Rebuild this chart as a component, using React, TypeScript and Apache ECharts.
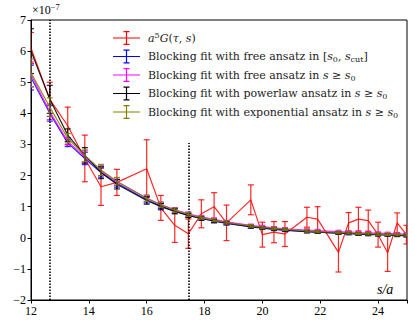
import React, { useEffect, useRef } from "react";
import * as echarts from "echarts";

// lattice separations s/a
const S = [12.0, 12.65, 13.27, 13.86, 14.42, 14.97, 16.0, 16.49, 16.97, 17.44, 17.89, 18.33, 18.76, 19.6, 20.0, 20.4, 20.78, 21.54, 21.91, 22.63, 22.98, 23.32, 23.66, 24.0, 24.33, 24.66, 24.98];

// a^5 G(tau, s)  (units of 1e-7)
const G_VAL = [6.1, 4.45, 3.6, 2.55, 1.64, 1.78, 2.22, 0.96, 0.4, 0.13, 0.77, 1.0, 0.48, 1.22, 0.1, 0.18, 0.12, 0.66, 0.6, -0.47, 0.48, 0.6, 0.55, 0.1, -0.48, 0.48, 0.1];
const G_ERR = [0.5, 0.55, 0.6, 0.75, 0.6, 0.42, 0.93, 0.4, 0.55, 0.47, 0.45, 0.45, 0.57, 0.48, 0.4, 0.34, 0.4, 0.32, 0.4, 0.63, 0.33, 0.38, 0.34, 0.4, 0.6, 0.32, 0.3];

// blocking fit, free ansatz in [s0, scut]
const FREE_CUT_VAL = [5.15, 4.0, 3.05, 2.55, 2.1, 1.75, 1.22, 1.02, 0.86, 0.72, 0.62, 0.54, 0.46, 0.35, 0.31, 0.27, 0.24, 0.2, 0.18, 0.15, 0.14, 0.12, 0.11, 0.1, 0.09, 0.08, 0.07];
const FREE_CUT_ERR = [0.4, 0.25, 0.12, 0.2, 0.15, 0.12, 0.1, 0.08, 0.07, 0.06, 0.05, 0.05, 0.05, 0.04, 0.04, 0.04, 0.04, 0.04, 0.04, 0.04, 0.04, 0.04, 0.04, 0.04, 0.04, 0.04, 0.04];

// blocking fit, free ansatz in s >= s0
const FREE_VAL = [5.25, 4.05, 3.1, 2.6, 2.15, 1.8, 1.27, 1.07, 0.9, 0.77, 0.67, 0.59, 0.51, 0.4, 0.36, 0.32, 0.29, 0.25, 0.23, 0.2, 0.19, 0.17, 0.16, 0.15, 0.14, 0.13, 0.12];
const FREE_ERR = [0.4, 0.25, 0.12, 0.2, 0.15, 0.12, 0.1, 0.08, 0.07, 0.06, 0.05, 0.05, 0.05, 0.04, 0.04, 0.04, 0.04, 0.04, 0.04, 0.04, 0.04, 0.04, 0.04, 0.04, 0.04, 0.04, 0.04];

// blocking fit, powerlaw ansatz in s >= s0
const POW_VAL = [6.0, 4.45, 3.3, 2.65, 2.1, 1.72, 1.2, 1.0, 0.85, 0.72, 0.62, 0.54, 0.47, 0.36, 0.32, 0.28, 0.25, 0.2, 0.18, 0.15, 0.14, 0.12, 0.11, 0.1, 0.09, 0.08, 0.07];
const POW_ERR = [0.72, 0.45, 0.2, 0.25, 0.2, 0.15, 0.12, 0.1, 0.08, 0.07, 0.06, 0.06, 0.05, 0.05, 0.04, 0.04, 0.04, 0.04, 0.04, 0.04, 0.04, 0.04, 0.04, 0.04, 0.04, 0.04, 0.04];

// blocking fit, exponential ansatz in s >= s0
const EXP_VAL = [5.3, 4.2, 3.2, 2.65, 2.18, 1.82, 1.27, 1.06, 0.89, 0.75, 0.65, 0.57, 0.49, 0.38, 0.33, 0.3, 0.27, 0.22, 0.2, 0.17, 0.16, 0.14, 0.13, 0.12, 0.11, 0.1, 0.09];
const EXP_ERR = [0.45, 0.3, 0.15, 0.2, 0.18, 0.12, 0.1, 0.08, 0.07, 0.06, 0.05, 0.05, 0.05, 0.04, 0.04, 0.04, 0.04, 0.04, 0.04, 0.04, 0.04, 0.04, 0.04, 0.04, 0.04, 0.04, 0.04];

// vertical markers
const S0 = 12.65;
const S_CUT = 17.44;
const S_CUT_TOP = 3.05;

const X_MIN = 12, X_MAX = 25, X_STEP = 2;
const Y_MIN = -2, Y_MAX = 7, Y_STEP = 1;

const SERIES = [
  { name: "a5G", val: G_VAL, err: G_ERR, color: "#ff0000", opacity: 0.85,
    label: "{it|a}{sup|5}{it|G}{rm|(}{it|τ}{rm|, }{it|s}{rm|)}" },
  { name: "freeCut", val: FREE_CUT_VAL, err: FREE_CUT_ERR, color: "#0000ff", opacity: 0.85,
    label: "{rm|Blocking fit with free ansatz in [}{it|s}{sub|0}{rm|, }{it|s}{sub|cut}{rm|]}" },
  { name: "free", val: FREE_VAL, err: FREE_ERR, color: "#ff00ff", opacity: 0.85,
    label: "{rm|Blocking fit with free ansatz in }{it|s}{rm| ≥ }{it|s}{sub|0}" },
  { name: "pow", val: POW_VAL, err: POW_ERR, color: "#000000", opacity: 0.85,
    label: "{rm|Blocking fit with powerlaw ansatz in }{it|s}{rm| ≥ }{it|s}{sub|0}" },
  { name: "exp", val: EXP_VAL, err: EXP_ERR, color: "#808000", opacity: 0.85,
    label: "{rm|Blocking fit with exponential ansatz in }{it|s}{rm| ≥ }{it|s}{sub|0}" },
];

const SERIF = "'Liberation Serif', 'DejaVu Serif', serif";
const LEG_FONT = "'DejaVu Serif', serif";

const ICON = "path://M0,6.4H27V7.6H0Z M12.9,0H14.1V14H12.9Z M10.5,0H16.5V1.2H10.5Z M10.5,12.8H16.5V14H10.5Z";

function errRender(color: string, opacity: number) {
  return (params: any, api: any) => {
    const x = api.value(0), y = api.value(1), e = api.value(2);
    const hi = api.coord([x, y + e]);
    const lo = api.coord([x, y - e]);
    const cw = 3;
    const style = { stroke: color, lineWidth: 1.2, opacity };
    return {
      type: "group",
      children: [
        { type: "line", shape: { x1: hi[0], y1: hi[1], x2: lo[0], y2: lo[1] }, style },
        { type: "line", shape: { x1: hi[0] - cw, y1: hi[1], x2: hi[0] + cw, y2: hi[1] }, style },
        { type: "line", shape: { x1: lo[0] - cw, y1: lo[1], x2: lo[0] + cw, y2: lo[1] }, style },
      ],
    };
  };
}

export default function App() {
  const ref = useRef<HTMLDivElement>(null);
  useEffect(() => {
    if (!ref.current) return;
    const chart = echarts.init(ref.current, null, { renderer: "svg" });
    const series: any[] = [];
    SERIES.forEach((d, k) => {
      series.push({
        type: "line",
        name: d.name,
        data: S.map((s, i) => [s, d.val[i]]),
        symbol: "none",
        lineStyle: { color: d.color, width: 1.2, opacity: d.opacity },
        itemStyle: { color: d.color },
        z: 2 + k,
        clip: true,
        markLine: k === 0 ? {
          symbol: "none",
          silent: true,
          label: { show: false },
          lineStyle: { type: [1.5, 1.5], color: "#000", width: 1.6, opacity: 1 },
          data: [
            [{ coord: [S0, Y_MIN] }, { coord: [S0, Y_MAX] }],
            [{ coord: [S_CUT, Y_MIN] }, { coord: [S_CUT, S_CUT_TOP] }],
          ],
        } : undefined,
      });
      series.push({
        type: "custom",
        name: d.name,
        data: S.map((s, i) => [s, d.val[i], d.err[i]]),
        encode: { x: 0, y: 1 },
        renderItem: errRender(d.color, d.opacity),
        clip: true,
        z: 2 + k,
        itemStyle: { color: d.color },
      });
    });

    const labels: Record<string, string> = {};
    SERIES.forEach((d) => (labels[d.name] = d.label));

    chart.setOption({
      animation: false,
      backgroundColor: "#fff",
      grid: { left: 31, right: 8, top: 20, bottom: 27, show: true, borderColor: "#000", borderWidth: 1 },
      xAxis: {
        type: "value", min: X_MIN, max: X_MAX, interval: X_STEP,
        axisLine: { show: true, onZero: false, lineStyle: { color: "#000", width: 1 } },
        axisTick: { show: true, inside: false, length: 3.5, lineStyle: { color: "#000" } },
        axisLabel: { color: "#000", fontFamily: SERIF, fontSize: 12, margin: 5,
          formatter: (v: number) => (v >= 25 ? "" : String(v)) },
        splitLine: { show: false },
      },
      yAxis: {
        type: "value", min: Y_MIN, max: Y_MAX, interval: Y_STEP,
        axisLine: { show: true, onZero: false, lineStyle: { color: "#000", width: 1 } },
        axisTick: { show: true, inside: false, length: 3.5, lineStyle: { color: "#000" } },
        axisLabel: { color: "#000", fontFamily: SERIF, fontSize: 12, margin: 5,
          formatter: (v: number) => (v < 0 ? "\u2212" + Math.abs(v) : String(v)) },
        splitLine: { show: false },
      },
      legend: {
        orient: "vertical",
        left: 113,
        top: 31,
        padding: 0,
        itemWidth: 27,
        itemHeight: 14,
        itemGap: 4.5,
        selectedMode: false,
        data: SERIES.map((d) => ({ name: d.name, icon: ICON })),
        formatter: (name: string) => labels[name],
        textStyle: {
          padding: [0, 0, 0, 3],
          color: "#222",
          rich: {
            rm: { fontFamily: LEG_FONT, fontSize: 11, color: "#222", lineHeight: 14 },
            it: { fontFamily: LEG_FONT, fontSize: 11, fontStyle: "italic", color: "#222", lineHeight: 14 },
            sup: { fontFamily: LEG_FONT, fontSize: 8, color: "#222", verticalAlign: "top", lineHeight: 10 },
            sub: { fontFamily: LEG_FONT, fontSize: 8, color: "#222", verticalAlign: "bottom", lineHeight: 8 },
          },
        },
      },
      graphic: [
        {
          type: "text", left: 32, top: 2,
          style: {
            text: "{rm|×10}{sup|−7}",
            rich: {
              rm: { fontFamily: SERIF, fontSize: 12, fill: "#000", lineHeight: 16 },
              sup: { fontFamily: SERIF, fontSize: 8.5, fill: "#000", verticalAlign: "top", lineHeight: 10 },
            },
          },
        },
        {
          type: "text", left: 377, top: 282,
          style: { text: "s/a", fontFamily: SERIF, fontStyle: "italic", fontSize: 14, fill: "#000" },
        },
      ],
      series,
    });
    return () => chart.dispose();
  }, []);
  return <div ref={ref} style={{ width: 415, height: 327, position: "absolute", left: 0, top: 0 }} />;
}
